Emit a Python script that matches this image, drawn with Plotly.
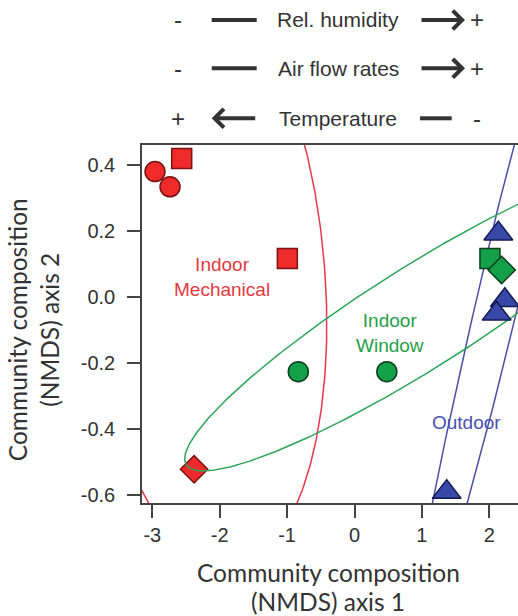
import numpy as np
import plotly.graph_objects as go

# ---------------- data ----------------
mech_x = [-2.96, -2.737, -2.564, -0.996, -2.38]
mech_y = [0.38, 0.334, 0.42, 0.117, -0.522]
mech_sym = ["circle", "circle", "square", "square", "diamond"]

win_x = [-0.834, 0.48, 2.01, 2.184]
win_y = [-0.226, -0.226, 0.117, 0.082]
win_sym = ["circle", "circle", "square", "diamond"]

out_x = [2.134, 2.231, 2.109, 1.368]
out_y = [0.192, -0.010, -0.051, -0.591]
out_sym = ["triangle-up", "triangle-up", "triangle-up", "triangle-up"]

# group ellipses: centre x, centre y, x-cos, x-sin, y-cos, y-sin coefficients
mech_ellipse = [-2.224, 0.090, -0.409, -1.766, 0.909, -0.033]
win_ellipse = [0.962, -0.063, -3.458, 0.403, -0.445, -0.131]
out_ellipse = [2.30, 0.140, 1.52, 0.305, 1.313, -0.0152]

x_ticks = [-3, -2, -1, 0, 1, 2]
x_ticktext = ["-3", "-2", "-1", "0", "1", "2"]
y_ticks = [-0.6, -0.4, -0.2, 0.0, 0.2, 0.4]
y_ticktext = ["-0.6", "-0.4", "-0.2", "0.0", "0.2", "0.4"]

key_labels = ["Rel. humidity", "Air flow rates", "Temperature"]
key_left = ["-", "-", "+"]
key_right = ["+", "+", "-"]
key_dir = ["right", "right", "left"]

x_title = ["Community composition", "(NMDS) axis 1"]
y_title = "Community composition<br>(NMDS) axis 2"

# ---------------- style ----------------
RED, RED_E, RED_L = "#EE2A2A", "#7A1414", "#E8394A"
GRN, GRN_E, GRN_L = "#14A048", "#0B3D1E", "#2EA55A"
BLU, BLU_E, BLU_L = "#3848A8", "#141852", "#4B4FA8"
sizes = {"circle": 20, "square": 20, "diamond": 21, "triangle-up": 25}

t = np.linspace(0, 2*np.pi, 500)


def ell(p):
    return (p[0] + p[2]*np.cos(t) + p[3]*np.sin(t),
            p[1] + p[4]*np.cos(t) + p[5]*np.sin(t))


fig = go.Figure()


def add_ell(p, col):
    ex, ey = ell(p)
    fig.add_trace(go.Scatter(x=ex, y=ey, mode="lines", line=dict(color=col, width=1.5),
                             hoverinfo="skip", showlegend=False))


def add_pts(xs, ys, syms, fill, edge):
    fig.add_trace(go.Scatter(x=xs, y=ys, mode="markers", showlegend=False,
                             marker=dict(symbol=syms, size=[sizes[s] for s in syms], color=fill,
                                         opacity=1, line=dict(color=edge, width=1.5))))


add_ell(mech_ellipse, RED_L)
add_ell(out_ellipse, BLU_L)
add_pts(mech_x, mech_y, mech_sym, RED, RED_E)
add_ell(win_ellipse, GRN_L)
add_pts(win_x, win_y, win_sym, GRN, GRN_E)
add_pts(out_x, out_y, out_sym, BLU, BLU_E)

TXT = "#333333"
AX = "#444444"
FONT = "Liberation Sans, Arial, sans-serif"
TFONT = "Lato, Carlito, Calibri, sans-serif"

fig.update_xaxes(range=[-3.153, 2.426], tickvals=x_ticks, ticktext=x_ticktext, ticks="outside",
                 ticklen=13, tickwidth=1.5, tickcolor=AX, showline=True, linecolor=AX, linewidth=1.5,
                 mirror=True, showgrid=False, zeroline=False,
                 tickfont=dict(family=FONT, size=20, color=TXT))
fig.update_yaxes(range=[-0.624, 0.4606], tickvals=y_ticks, ticktext=y_ticktext, ticks="outside",
                 ticklen=13, tickwidth=1.5, tickcolor=AX, showline=True, linecolor=AX, linewidth=1.5,
                 mirror=False, showgrid=False, zeroline=False, ticklabelstandoff=8,
                 tickfont=dict(family=FONT, size=20, color=TXT))

ann = []
# group labels
ann.append(dict(x=-1.966, y=0.0606, text="Indoor<br>Mechanical", showarrow=False,
                font=dict(family=FONT, size=19, color="#E5393F")))
ann.append(dict(x=0.527, y=-0.109, text="Indoor<br>Window", showarrow=False,
                font=dict(family=FONT, size=19, color="#1FA049")))
ann.append(dict(x=1.669, y=-0.379, text="Outdoor", showarrow=False,
                font=dict(family=FONT, size=19, color="#4A4FB0")))
# axis titles
for line, py in zip(x_title, [572, 601]):
    ann.append(dict(xref="paper", yref="paper", x=0.4947, y=(503 - py) / 358, text=line,
                    showarrow=False, xanchor="center", yanchor="middle",
                    font=dict(family=TFONT, size=24.5, color=TXT)))
ann.append(dict(xref="paper", yref="paper", x=-0.2897, y=0.483, text=y_title,
                showarrow=False, textangle=-90, xanchor="center", yanchor="middle",
                font=dict(family=TFONT, size=24.5, color=TXT)))

# top key
row_y = [1.3492, 1.2142, 1.0746]
shapes = []
for lab, ls, rs, direction, yy in zip(key_labels, key_left, key_right, key_dir, row_y):
    ann.append(dict(xref="paper", yref="paper", x=0.5213, y=yy, text=lab, showarrow=False,
                    xanchor="center", yanchor="middle",
                    font=dict(family=FONT, size=21, color=TXT)))
    ann.append(dict(xref="paper", yref="paper", x=0.0965, y=yy, text=ls, showarrow=False,
                    xanchor="center", yanchor="middle",
                    font=dict(family=FONT, size=24, color=TXT)))
    ann.append(dict(xref="paper", yref="paper", x=0.8902, y=yy, text=rs, showarrow=False,
                    xanchor="center", yanchor="middle",
                    font=dict(family=FONT, size=24, color=TXT)))
    if direction == "right":
        shapes.append(dict(type="line", xref="paper", yref="paper", x0=0.1854, x1=0.3051, y0=yy, y1=yy,
                           line=dict(color=TXT, width=4)))
        ann.append(dict(xref="paper", yref="paper", x=0.859, y=yy, ax=-45, ay=0, text="",
                        showarrow=True, arrowhead=4, arrowsize=0.9, arrowwidth=4, arrowcolor=TXT))
    else:
        ann.append(dict(xref="paper", yref="paper", x=0.1854, y=yy, ax=45, ay=0, text="",
                        showarrow=True, arrowhead=4, arrowsize=0.9, arrowwidth=4, arrowcolor=TXT))
        shapes.append(dict(type="line", xref="paper", yref="paper", x0=0.7394, x1=0.8237, y0=yy, y1=yy,
                           line=dict(color=TXT, width=4)))

fig.update_layout(width=518, height=616, margin=dict(l=142, r=0, t=145, b=113),
                  plot_bgcolor="white", paper_bgcolor="white", annotations=ann, shapes=shapes)
fig.write_html("out.html", config={"displayModeBar": False},
               post_script="document.body.style.margin='0';")
